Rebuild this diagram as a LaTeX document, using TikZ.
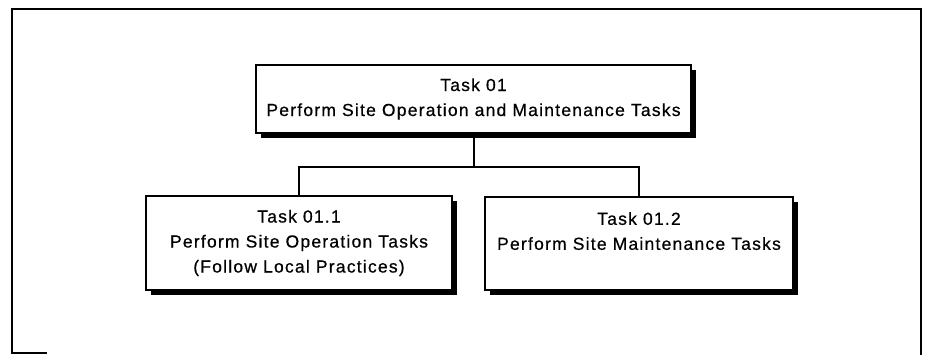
\documentclass[tikz,border=0pt]{standalone}
\usepackage{fontspec}
\setmainfont{Liberation Sans}[LetterSpace=7, FakeBold=0.6]
\usetikzlibrary{shadows,calc}
\begin{document}
\begin{tikzpicture}[x=1pt,y=-1pt,
  taskbox/.style={draw=black, line width=1.8pt, fill=white, align=center,
    inner sep=0pt, font=\fontsize{17.5}{25}\selectfont,
    drop shadow={shadow xshift=5pt, shadow yshift=-5pt, fill=black, opacity=1}},
  link/.style={line width=2pt},
  frame/.style={line width=2.6pt}]
\useasboundingbox (0,0) rectangle (928,355);
% outer frame (bottom edge cut off)
\draw[frame] (47,353) -- (12,353) -- (12,9) -- (921,9) -- (921,355);
% boxes
\node[taskbox, minimum width=435pt, minimum height=68pt] (top) at (473.5,99)
  {Task 01\\Perform Site Operation and Maintenance Tasks};
\node[taskbox, minimum width=306pt, minimum height=94pt] (c1) at (299,243)
  {Task 01.1\\Perform Site Operation Tasks\\(Follow Local Practices)};
\node[taskbox, minimum width=308pt, minimum height=93pt] (c2) at (639,243.5)
  {Task 01.2\\Perform Site Maintenance Tasks\\~};
% connectors
\coordinate (bus) at (0,167);
\draw[link] (top.south) -- (top.south |- bus);
\draw[link] (c1.north) |- (top.south |- bus) -| (c2.north);
\end{tikzpicture}
\end{document}
